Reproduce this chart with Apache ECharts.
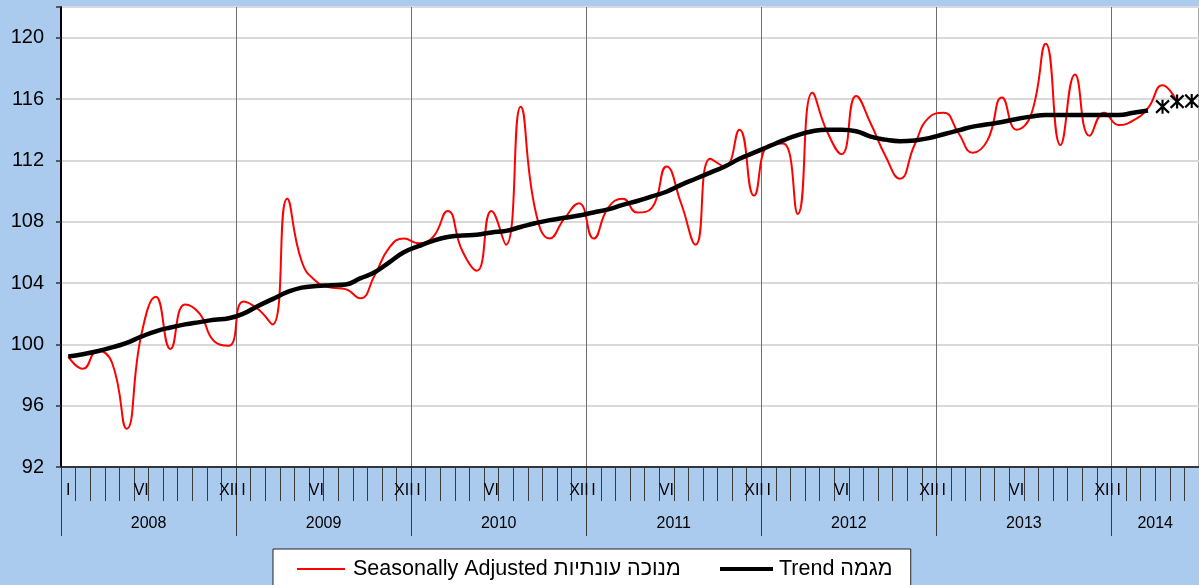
<!DOCTYPE html>
<html>
<head>
<meta charset="utf-8">
<script src="https://cdn.jsdelivr.net/npm/echarts@6/dist/echarts.min.js"></script>
<style>
  html, body { margin: 0; padding: 0; background: #aacbee; }
  #chart { width: 1199px; height: 585px; }
</style>
</head>
<body>
<div id="chart"></div>
<script>
const years = ['2008', '2009', '2010', '2011', '2012', '2013', '2014'];
const monthsInYear = [12, 12, 12, 12, 12, 12, 6];
const monthNumerals = ['I', 'II', 'III', 'IV', 'V', 'VI', 'VII', 'VIII', 'IX', 'X', 'XI', 'XII'];
const labelledMonths = ['I', 'VI', 'XII'];

// Jan 2008 .. May 2014
const seasonallyAdjusted = [
  99.2, 98.4, 99.6, 98.8, 94.5, 100.6, 103.1, 99.7, 102.6, 102.0, 100.2, 99.9,
  102.8, 102.3, 101.3, 109.5, 105.4, 104.1, 103.7, 103.6, 103.0, 104.5, 106.3, 106.9,
  106.6, 107.0, 108.7, 106.1, 104.8, 108.7, 106.5, 115.5, 108.8, 106.9, 108.2, 109.2,
  106.9, 108.9, 109.5, 108.6, 108.9, 111.6, 109.2, 106.5, 112.1, 111.6, 114.0, 109.7,
  113.0, 113.1, 108.5, 116.4, 113.9, 112.4, 116.2, 114.4, 112.3, 110.8, 113.0, 114.8,
  115.1, 113.8, 112.5, 113.3, 116.1, 114.0, 115.0, 119.6, 113.0, 117.6, 113.6, 115.1,
  114.3, 114.6, 115.4, 116.9, 115.8
];

// Jan 2008 .. Mar 2014
const trend = [
  99.2, 99.35, 99.55, 99.8, 100.1, 100.5, 100.85, 101.1, 101.3, 101.45, 101.6, 101.7,
  102.0, 102.5, 102.95, 103.4, 103.7, 103.8, 103.85, 103.9, 104.3, 104.7, 105.35, 106.0,
  106.4, 106.75, 107.0, 107.1, 107.15, 107.3, 107.4, 107.65, 107.9, 108.1, 108.25, 108.4,
  108.6, 108.8, 109.1, 109.35, 109.65, 109.95, 110.4, 110.8, 111.2, 111.6, 112.1, 112.5,
  112.9, 113.3, 113.65, 113.9, 114.0, 114.0, 113.9, 113.55, 113.35, 113.25, 113.3, 113.45,
  113.7, 113.95, 114.2, 114.35, 114.5, 114.7, 114.85, 114.95, 114.95, 114.95, 114.95, 114.95,
  114.95, 115.1, 115.25
];

// trend estimates, marked with asterisks
const forecastMonths = ['2014-04', '2014-05', '2014-06'];
const trendForecast = [115.5, 115.83, 115.87];

const saName = 'Seasonally Adjusted מנוכה עונתיות';
const trendName = 'Trend מגמה';

const categories = [];
const yearLabelAt = [];
years.forEach((y, k) => {
  for (let m = 1; m <= monthsInYear[k]; m++) {
    categories.push(y + '-' + String(m).padStart(2, '0'));
  }
  yearLabelAt.push(y + '-' + String(Math.floor(monthsInYear[k] / 2) + 1).padStart(2, '0'));
});

const numeral = v => monthNumerals[+v.slice(5) - 1];
// partial years only get the "I" label
const showMonthLabel = v => {
  const full = monthsInYear[years.indexOf(v.slice(0, 4))] === 12;
  return labelledMonths.includes(numeral(v)) && (full || numeral(v) === 'I');
};

const font = "'Liberation Sans', Arial, sans-serif";
const asterisk = 'path://M0,-10L0,10M-9,-9L9,9M-9,9L9,-9';

const chart = echarts.init(document.getElementById('chart'));
chart.setOption({
  animation: false,
  backgroundColor: '#aacbee',
  textStyle: { fontFamily: font },
  grid: {
    left: 61, right: 0, top: 7, bottom: 118,
    show: true, backgroundColor: '#fff', borderColor: '#555', borderWidth: 1
  },
  legend: [
    {
      data: [{ name: saName, icon: 'rect' }],
      left: 273, top: 549,
      itemWidth: 48, itemHeight: 2,
      padding: [9, 230, 9, 24],
      backgroundColor: '#fff', borderColor: '#222', borderWidth: 1,
      selectedMode: false,
      textStyle: { fontSize: 21.5, color: '#000', fontFamily: font, padding: [0, 0, 0, 3] }
    },
    {
      data: [{ name: trendName, icon: 'rect' }],
      left: 720, top: 558,
      itemWidth: 53, itemHeight: 4,
      padding: 0,
      selectedMode: false,
      z: 10,
      textStyle: { fontSize: 21.5, color: '#000', fontFamily: font, padding: [0, 0, 0, 1] }
    }
  ],
  xAxis: [
    {
      type: 'category',
      data: categories,
      boundaryGap: true,
      axisLine: { show: true, lineStyle: { color: '#000', width: 1.5 } },
      axisTick: { show: true, interval: 0, length: 34, lineStyle: { color: '#3a3a3a', width: 1 } },
      axisLabel: {
        interval: (i, v) => showMonthLabel(v),
        formatter: numeral,
        margin: 16, fontSize: 16, color: '#000', fontFamily: font
      },
      splitLine: { show: false }
    },
    {
      type: 'category',
      data: categories,
      position: 'bottom',
      boundaryGap: true,
      axisLine: { show: false },
      axisTick: { show: true, interval: i => i % 12 === 0, length: 69, lineStyle: { color: '#3a3a3a', width: 1 } },
      axisLabel: {
        interval: (i, v) => yearLabelAt.includes(v),
        formatter: v => v.slice(0, 4),
        margin: 49, padding: [0, 14.6, 0, 0],
        fontSize: 16, color: '#000', fontFamily: font
      },
      splitLine: { show: true, interval: i => i % 12 === 0, lineStyle: { color: '#6e6e6e', width: 1 } }
    }
  ],
  yAxis: {
    type: 'value',
    min: 92, max: 122, interval: 4,
    axisLine: { show: true, lineStyle: { color: '#000', width: 2 } },
    axisTick: { show: true, length: 5, lineStyle: { color: '#333', width: 1.5 } },
    axisLabel: {
      fontSize: 20, color: '#000', margin: 17, fontFamily: font,
      formatter: v => (v === 122 ? '' : v)
    },
    splitLine: { lineStyle: { color: '#d9d9d9', width: 2 } }
  },
  series: [
    {
      name: saName,
      type: 'line',
      data: seasonallyAdjusted,
      smooth: 0.5,
      symbol: 'none',
      lineStyle: { color: '#ff0000', width: 2 },
      itemStyle: { color: '#ff0000' },
      z: 2
    },
    {
      name: trendName,
      type: 'line',
      data: trend,
      smooth: 0.5,
      symbol: 'none',
      lineStyle: { color: '#000', width: 4.5 },
      itemStyle: { color: '#000' },
      z: 3
    },
    {
      type: 'scatter',
      data: forecastMonths.map((m, i) => [m, trendForecast[i]]),
      symbol: asterisk,
      symbolSize: [13, 14],
      itemStyle: { color: 'rgba(0,0,0,0)', borderColor: '#000', borderWidth: 2.2, opacity: 1 },
      z: 4
    }
  ]
});
</script>
</body>
</html>
